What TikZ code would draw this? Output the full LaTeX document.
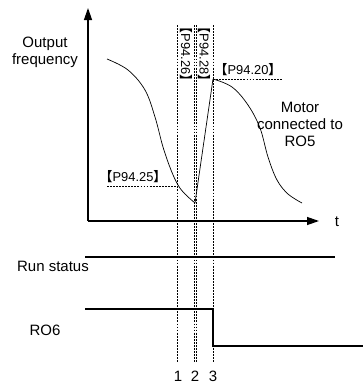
\documentclass[tikz,border=0pt]{standalone}
\usepackage{fontspec}
\setmainfont{Liberation Sans}
\newfontfamily\cjk{Noto Sans CJK SC}
\usetikzlibrary{arrows.meta,positioning,calc}

\newcommand{\plabel}[1]{{\cjk\bfseries 【}#1{\cjk\bfseries 】}}

\begin{document}
\begin{tikzpicture}[
    x=0.03cm, y=-0.03cm,
    font=\fontsize{12.8}{14.5}\selectfont,
    every node/.style={align=center, inner sep=1pt},
    axis/.style={line width=1.1pt, -{Triangle[length=0.36cm, width=0.24cm]}},
    guide/.style={dashed, line width=0.45pt, dash pattern=on 1.6pt off 1pt},
    curve/.style={line width=0.6pt},
    signal/.style={line width=0.9pt},
    plabeltxt/.style={font=\fontsize{11}{12}\selectfont},
    plabelrot/.style={plabeltxt, rotate=-90, inner sep=0.5pt}
]

\useasboundingbox (0,0) rectangle (363,384);

% -------------------------------------------------
% AXES
% -------------------------------------------------
\coordinate (O) at (88,221);
\coordinate (ytop) at (88,8);
\coordinate (xend) at (319,221);
\draw[axis] (O) -- (ytop);
\draw[axis] (O) -- (xend);
\node (tlab) at (337,222) {t};
\node (ylab) at (45,52) {Output\\frequency};

% -------------------------------------------------
% MARKER LINES 1, 2, 3
% -------------------------------------------------
\node (m1) at (178,376) {1};
\node (m2) at (195,376) {2};
\node (m3) at (213,376) {3};
\draw[guide] (177.5,25) -- (177.5,362);
\draw[guide] (194.3,25) -- (194.3,362);
\draw[guide] (196.2,25) -- (196.2,362);
\draw[guide] (213,25) -- (213,362);

\node[plabelrot] (p26) at (186,54) {\plabel{P94.26}};
\node[plabelrot] (p28) at (204.5,54) {\plabel{P94.28}};

% -------------------------------------------------
% FREQUENCY CURVES
% -------------------------------------------------
\coordinate (lowpt) at (195,203);
\coordinate (highpt) at (213,79);

% deceleration of first motor
\draw[curve] plot[smooth, tension=0.6] coordinates {
    (107,59) (128,70) (145,90) (155,117) (163,147) (171,170) (178,185) (185,194) (195,203)
};
% ramp back up
\draw[curve] (lowpt) -- (highpt);
% motor on RO5
\draw[curve] plot[smooth, tension=0.6] coordinates {
    (213,79) (232,87) (248,105) (260,128) (268,157) (277,180) (288,194) (302,203)
};

% level labels
\node[plabeltxt] (p20) at (248,70) {\plabel{P94.20}};
\coordinate (p20end) at (283,79);
\draw[guide] (highpt) -- (p20end);

\node[plabeltxt] (p25) at (133,177) {\plabel{P94.25}};
\coordinate (p25start) at (107,186);
\coordinate (p25end) at (178,186);
\draw[guide] (p25start) -- (p25end);

\node (motor) at (300,124) {Motor\\connected to\\RO5};

% -------------------------------------------------
% RUN STATUS AND RO6
% -------------------------------------------------
\node (run) at (53,266) {Run status};
\coordinate (runA) at (85,257);
\coordinate (runB) at (335,257);
\draw[signal] (runA) -- (runB);

\node (ro6) at (45,330) {RO6};
\coordinate (roA) at (85,309);
\coordinate (roB) at (363,346);
\draw[signal] (roA) -- (213,309) -- (213,346) -- (roB);

\end{tikzpicture}
\end{document}
